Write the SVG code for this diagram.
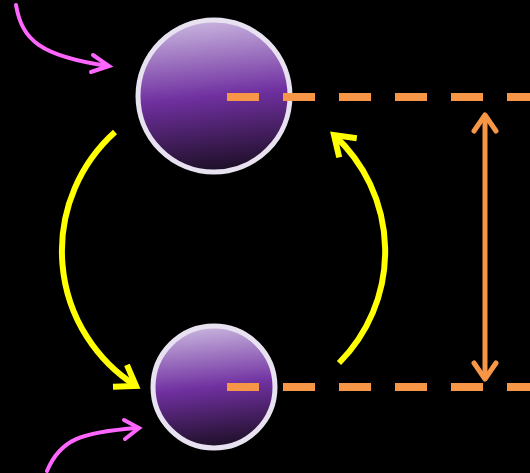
<svg xmlns="http://www.w3.org/2000/svg" width="530" height="473" viewBox="0 0 530 473">
<style>
.node{stroke:#e8e2f0;stroke-width:5;fill:url(#g)}
.dash{stroke:#f79646;stroke-width:8;stroke-dasharray:32 24;fill:none}
.yel{stroke:#ffff00;stroke-width:6;fill:none;stroke-linecap:butt}
.pink{stroke:#ff66ff;stroke-width:4;fill:none;stroke-linecap:round}
.org{stroke:#f79646;stroke-width:5;fill:none;stroke-linecap:round;stroke-linejoin:round}
</style>
<defs>
<linearGradient id="g" x1="0.45" y1="0" x2="0.55" y2="1">
<stop offset="0" stop-color="#c8b4de"/>
<stop offset="0.5" stop-color="#7030a0"/>
<stop offset="1" stop-color="#1c0e24"/>
</linearGradient>
<marker id="ya" markerUnits="userSpaceOnUse" markerWidth="40" markerHeight="40" refX="20" refY="20" orient="auto" overflow="visible">
<path d="M1,7 L20,20 L1,33" fill="none" stroke="#ffff00" stroke-width="6" stroke-linejoin="miter"/>
</marker>
</defs>
<rect width="530" height="473" fill="#000"/>
<g id="node-top"><circle class="node" cx="214" cy="96" r="76"/></g>
<g id="node-bottom"><circle class="node" cx="214" cy="387" r="61"/></g>
<g id="connectors">
<path class="dash" d="M227,97 H530"/>
<path class="dash" d="M227,387 H530"/>
<path class="yel" d="M115,132 A160,160 0 0 0 136,386" marker-end="url(#ya)"/>
<path class="yel" d="M339,363 A158,158 0 0 0 334,135" marker-end="url(#ya)"/>
<path class="pink" d="M16,5 C22,40 40,56 108,66"/>
<path class="pink" d="M93,55 L109,66 L91,72"/>
<path class="pink" d="M47,471 C60,440 80,432 138,428"/>
<path class="pink" d="M124,420 L139,428 L125,439"/>
<path class="org" d="M485,116 V378"/>
<path class="org" d="M474,131 L485,115 L496,131"/>
<path class="org" d="M474,363 L485,379 L496,363"/>
</g>
</svg>
